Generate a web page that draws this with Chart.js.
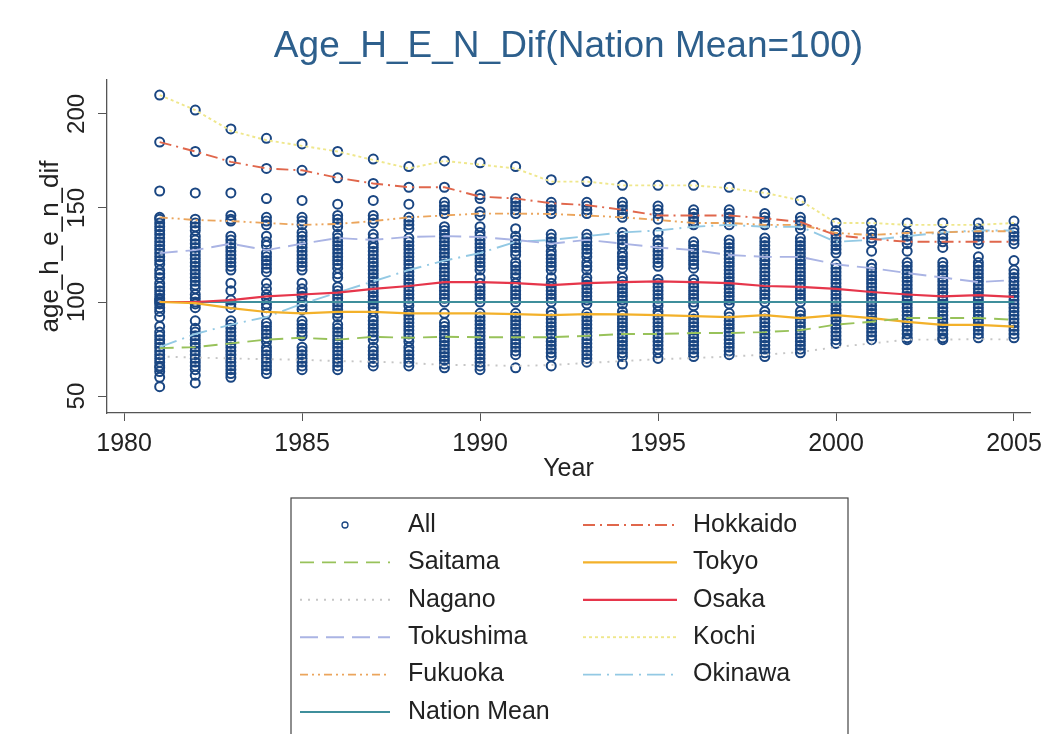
<!DOCTYPE html>
<html>
<head>
<meta charset="utf-8">
<script src="https://cdn.jsdelivr.net/npm/chart.js@4.4.0/dist/chart.umd.min.js"></script>
<style>
  html, body { margin: 0; padding: 0; background: #fff; }
  #wrap { width: 1051px; height: 734px; }
</style>
</head>
<body>
<div id="wrap"><canvas id="chart" width="1051" height="734"></canvas></div>
<script>
const years = [1981,1982,1983,1984,1985,1986,1987,1988,1989,1990,1991,1992,1993,1994,1995,1996,1997,1998,1999,2000,2001,2002,2003,2004,2005];
const xTicks = [1980,1985,1990,1995,2000,2005];
const yTicks = [50,100,150,200];

// prefecture lines
const hokkaido  = [185,180,174.5,171,170,166,163,161,161,156,155,152.5,151.5,149,146,146,146,144.5,142.5,135.5,133.5,132,132,132,132];
const saitama   = [75.5,76,78,80,81,80,81.5,81,81.5,81.3,81.3,81.3,82,83,83,83.5,83.5,84,85,88,89.5,91.5,91.5,91.5,90.5];
const tokyo     = [100,99.4,96.7,94.7,94,94.7,94.7,94,94,94,93.6,93,93.6,93.4,93,92.5,92,93,91.4,93,91.4,89.4,87.8,87.8,86.9];
const nagano    = [71,70.5,70,69.6,69.3,68.6,68.3,67.6,66.5,66.5,66,66.5,67.6,68.6,69.6,70.2,71,72,73.4,76,78,80,80,80.3,80];
const osaka     = [100,100,101,103,104,105,107,108.5,110.6,110.6,110,109,110,110.6,111,110.6,110,108.5,108,107,105.3,104,103,103.7,102.7];
const tokushima = [126,127.6,131,127.6,131,134,133,134.6,135,134.6,133,131,133,131,129,127.6,125,124,124,120,118,115.4,113,110.6,111.7];
const kochi     = [210,202,191,186,183,180,175.5,171,175,173,171,164,164,162,162,162,160.5,158,154,142,142,141,141,141,142];
const fukuoka   = [145,143.6,143,142,141,141.5,143,145,146,147,147,146.8,146,145,143.6,142,142,141,141,136.7,135.6,136.7,137,137.6,137.6];
const okinawa   = [76,83,88,92,99,105,111,117,122,126,132,133,135,137,138,140,141,140,140,132,133,135,137,138,138];
const nationMean = [100,100,100,100,100,100,100,100,100,100,100,100,100,100,100,100,100,100,100,100,100,100,100,100,100];

// all prefectures, one list per year (visible circles)
const allByYear = [
  [210,185,159,145,144,142,140,138,136,134,132,130,128,126,124,122,120,117,115,113,110,108,106,104,102,101,100,99,97,95,92,87,84,82,80,78,76,74,72,70,68,66,65,63,60,55],
  [202,180,158,144,142,140,138,135,133,131,129,127,125,123,121,119,117,115,113,111,109,107,104,102,100,99,97,90,86,84,82,80,78,76,74,72,70,68,66,64,61,57],
  [192,175,158,146,144,143,135,133,131,129,127,125,123,121,119,117,110,106,101,99,97,90,88,86,84,82,80,78,76,74,72,70,68,66,64,62,60],
  [187,171,155,145,143,141,135,132,130,126,124,122,120,118,116,110,107,104,102,99,97,94,89,87,85,83,81,79,76,74,72,70,68,66,64,62],
  [184,170,154,145,143,141,137,135,133,131,129,127,125,123,121,119,117,110,107,105,103,100,98,96,90,88,86,84,82,76,74,72,70,68,66,64],
  [180,166,152,146,144,142,140,136,134,132,130,128,126,124,122,120,118,115,113,108,106,104,102,100,98,96,94,92,88,86,84,82,80,78,76,74,72,70,68,66,64],
  [176,163,154,146,144,142,136,134,131,129,127,125,123,121,119,117,115,113,111,109,107,105,103,101,99,97,95,92,90,88,86,84,82,80,76,74,72,70,68,66],
  [172,161,152,145,143,141,139,134,132,130,128,126,124,122,120,118,116,114,112,110,108,106,104,102,100,98,95,93,91,89,87,85,83,81,79,76,74,72,70,68,66],
  [175,161,153,151,149,147,140,138,136,134,132,130,128,126,124,122,120,118,116,114,112,110,108,106,104,102,100,94,89,87,85,83,81,79,77,75,73,71,69,67,65],
  [174,157,155,148,146,140,137,135,133,131,129,127,125,123,121,119,117,113,110,108,106,104,102,100,94,92,90,88,86,84,82,80,78,76,74,72,70,68,66,64],
  [172,155,153,151,149,147,139,135,133,131,129,127,125,121,119,117,115,113,110,108,106,104,102,100,94,92,90,88,86,84,82,80,78,76,74,72,65],
  [165,153,151,149,147,136,134,132,130,127,125,123,121,119,117,113,110,108,106,104,102,100,95,93,91,89,87,85,83,81,79,77,75,73,71,66],
  [164,153,151,149,147,136,134,132,130,128,126,124,121,119,117,113,111,109,107,105,103,101,99,94,92,90,88,86,84,82,80,78,76,74,72,70,68],
  [162,153,151,149,147,145,137,135,133,131,129,126,124,122,120,118,113,111,109,107,105,103,101,99,95,93,91,89,87,85,83,81,79,77,75,73,71,67],
  [162,151,149,147,144,137,133,131,129,127,125,123,121,119,112,110,108,106,104,102,100,98,95,93,91,89,87,85,83,81,79,77,75,73,70],
  [162,149,147,145,143,141,132,130,128,126,124,122,120,118,112,110,108,106,104,102,100,98,93,91,89,87,85,83,81,79,77,75,73,71],
  [161,149,147,145,143,141,133,131,129,127,125,123,121,119,117,115,113,111,109,107,105,103,101,99,94,92,90,88,86,84,82,80,78,76,74,72],
  [158,147,145,143,141,134,132,130,128,126,124,122,120,118,116,114,112,110,108,106,104,102,100,95,93,91,89,87,85,83,81,79,77,75,73,71],
  [154,145,143,141,139,134,132,130,128,126,124,122,120,118,116,114,112,110,108,106,104,102,100,95,93,91,89,87,85,83,81,79,77,75,73],
  [142,138,136,134,132,130,128,126,120,118,116,114,112,110,108,106,104,102,100,98,96,94,92,90,88,86,84,82,80,78],
  [142,138,136,134,132,127,120,118,116,114,112,110,108,106,104,102,100,98,96,94,92,90,88,86,84,82,80],
  [142,137,135,133,131,127,121,119,117,115,113,111,109,107,105,103,101,99,97,95,93,91,89,87,85,83,81,80],
  [142,136,134,132,129,121,119,117,115,113,111,109,107,105,103,101,99,97,95,93,91,89,87,85,83,81,80],
  [142,139,137,135,133,131,124,121,119,117,115,113,111,109,107,105,103,101,99,97,95,93,91,89,87,85,83,81],
  [143,139,137,135,133,131,122,117,115,113,111,109,107,105,103,101,99,97,95,93,91,89,87,85,83,81]
];

const FONT = '"Liberation Sans", Arial, sans-serif';
const TEXT = '#222';
const AXIS = '#555';

const toXY = vals => vals.map((v, i) => ({ x: years[i], y: v }));

function lineSet(label, vals, color, dash, width) {
  return {
    type: 'line', label: label, data: toXY(vals),
    borderColor: color, borderDash: dash, borderWidth: width || 1.9,
    pointRadius: 0, fill: false, tension: 0, order: 1
  };
}

const allPoints = [];
allByYear.forEach((col, i) => col.forEach(v => allPoints.push({ x: years[i], y: v })));

const datasets = [
  { label: 'All', data: allPoints, showLine: false, pointStyle: 'circle', pointRadius: 4.5,
    borderColor: '#1a4682', backgroundColor: 'rgba(0,0,0,0)', borderWidth: 2, order: 2 },
  lineSet('Hokkaido', hokkaido, '#e0674c', [12, 5, 2, 5]),
  lineSet('Saitama', saitama, '#98c25a', [14, 8]),
  lineSet('Tokyo', tokyo, '#f3b12a', [], 2.2),
  lineSet('Nagano', nagano, '#c6c6c6', [2, 6]),
  lineSet('Osaka', osaka, '#e6364b', [], 2.2),
  lineSet('Tokushima', tokushima, '#aab4e4', [18, 8]),
  lineSet('Kochi', kochi, '#efe78c', [3, 3]),
  lineSet('Fukuoka', fukuoka, '#eba55c', [8, 4, 2, 4, 2, 4]),
  lineSet('Okinawa', okinawa, '#93c9e4', [18, 6, 2, 6]),
  lineSet('Nation Mean', nationMean, '#3f8f9c', [], 2)
];

// title, y tick labels (rotated, Stata style), y title and the boxed legend
const stataText = {
  id: 'stataText',
  afterDraw(chart) {
    const ctx = chart.ctx;
    const area = chart.chartArea;
    const y = chart.scales.y;
    ctx.save();
    ctx.textAlign = 'center';
    ctx.textBaseline = 'middle';
    ctx.fillStyle = '#2d5f8c';
    ctx.font = '37px ' + FONT;
    ctx.fillText('Age_H_E_N_Dif(Nation Mean=100)', (area.left + area.right) / 2, 47);

    ctx.fillStyle = TEXT;
    ctx.font = '24px ' + FONT;
    yTicks.forEach(v => {
      ctx.save();
      ctx.translate(77, y.getPixelForValue(v));
      ctx.rotate(-Math.PI / 2);
      ctx.fillText(String(v), 0, 0);
      ctx.restore();
    });
    ctx.font = '26px ' + FONT;
    ctx.save();
    ctx.translate(51, (area.top + area.bottom) / 2);
    ctx.rotate(-Math.PI / 2);
    ctx.fillText('age_h_e_n_dif', 0, 0);
    ctx.restore();

    // legend box
    const box = { left: 291, top: 498, right: 848, bottom: 740 };
    ctx.strokeStyle = '#444';
    ctx.lineWidth = 1.2;
    ctx.strokeRect(box.left, box.top, box.right - box.left, box.bottom - box.top);
    ctx.font = '25px ' + FONT;
    ctx.textAlign = 'left';
    const cols = [{ x0: 300, x1: 390, tx: 408 }, { x0: 583, x1: 677, tx: 693 }];
    chart.data.datasets.forEach((ds, i) => {
      const c = cols[i % 2];
      const ry = 525 + Math.floor(i / 2) * 37.4;
      if (ds.showLine === false) {
        ctx.setLineDash([]);
        ctx.strokeStyle = ds.borderColor;
        ctx.lineWidth = 1.3;
        ctx.beginPath();
        ctx.arc((c.x0 + c.x1) / 2, ry, 3, 0, Math.PI * 2);
        ctx.stroke();
      } else {
        ctx.setLineDash(ds.borderDash || []);
        ctx.strokeStyle = ds.borderColor;
        ctx.lineWidth = ds.borderWidth;
        ctx.beginPath();
        ctx.moveTo(c.x0, ry);
        ctx.lineTo(c.x1, ry);
        ctx.stroke();
      }
      ctx.setLineDash([]);
      ctx.fillStyle = TEXT;
      ctx.fillText(ds.label, c.tx, ry);
    });
    ctx.restore();
  }
};

new Chart(document.getElementById('chart'), {
  type: 'scatter',
  data: { datasets: datasets },
  options: {
    responsive: false,
    animation: false,
    devicePixelRatio: 1,
    layout: { padding: { left: 0, right: 21, top: 80, bottom: 246 } },
    plugins: {
      legend: { display: false },
      tooltip: { enabled: false },
      title: { display: false }
    },
    scales: {
      x: {
        type: 'linear', min: 1979.52, max: 2005.45,
        afterBuildTicks: s => { s.ticks = xTicks.map(v => ({ value: v })); },
        afterFit: s => { s.height = 75; },
        grid: { drawOnChartArea: false, drawTicks: true, tickLength: 8, color: AXIS },
        border: { color: AXIS, width: 1.3 },
        ticks: { font: { family: FONT, size: 25 }, color: TEXT, padding: 8, maxRotation: 0, autoSkip: false,
                 callback: v => String(v) },
        title: { display: true, text: 'Year', font: { family: FONT, size: 25 }, color: TEXT, padding: { top: 0, bottom: 4 } }
      },
      y: {
        type: 'linear', min: 41, max: 218,
        afterBuildTicks: s => { s.ticks = yTicks.map(v => ({ value: v })); },
        afterFit: s => { s.width = 107; },
        grid: { drawOnChartArea: false, drawTicks: true, tickLength: 9, color: AXIS },
        border: { color: AXIS, width: 1.3 },
        ticks: { display: false }
      }
    }
  },
  plugins: [stataText]
});
</script>
</body>
</html>
